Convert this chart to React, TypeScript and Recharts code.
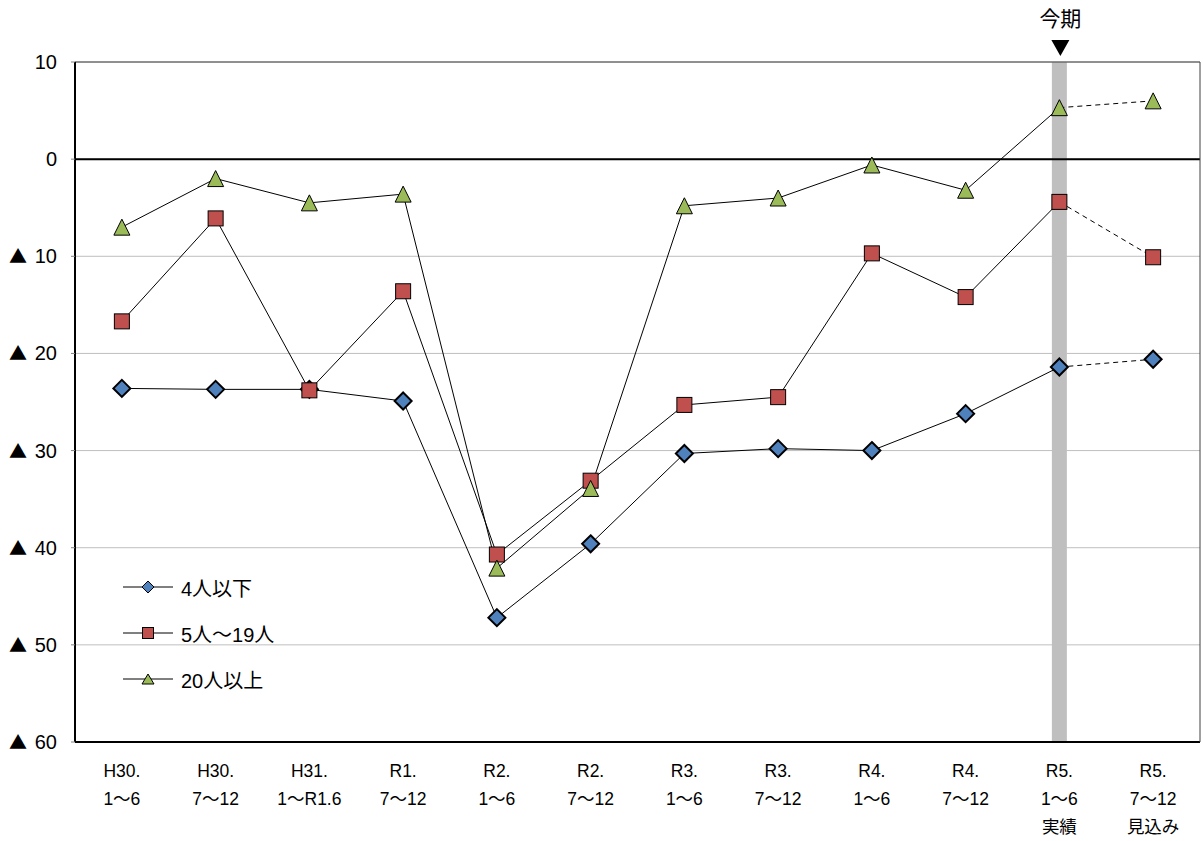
import React from "react";
import {
  LineChart,
  Line,
  XAxis,
  YAxis,
  CartesianGrid,
  ReferenceLine,
  Legend,
} from "recharts";

const periods = [
  "H30.\n1～6",
  "H30.\n7～12",
  "H31.\n1～R1.6",
  "R1.\n7～12",
  "R2.\n1～6",
  "R2.\n7～12",
  "R3.\n1～6",
  "R3.\n7～12",
  "R4.\n1～6",
  "R4.\n7～12",
  "R5.\n1～6\n実績",
  "R5.\n7～12\n見込み",
];

const under4 = [-23.6, -23.7, -23.7, -24.9, -47.2, -39.6, -30.3, -29.8, -30.0, -26.2, -21.4, -20.6];
const from5to19 = [-16.7, -6.1, -23.8, -13.6, -40.7, -33.1, -25.3, -24.5, -9.7, -14.2, -4.4, -10.1];
const over20 = [-7.0, -2.0, -4.5, -3.6, -42.1, -33.9, -4.8, -4.0, -0.6, -3.2, 5.3, 6.0];

const yTicks = [10, 0, -10, -20, -30, -40, -50, -60];
const currentPeriod = periods[10];
const currentLabel = "今期";

const series = [
  { key: "a", name: "4人以下", values: under4, shape: "diamond" },
  { key: "b", name: "5人～19人", values: from5to19, shape: "square" },
  { key: "c", name: "20人以上", values: over20, shape: "triangle" },
];

// last point is a forecast, joined by a dashed segment
const lastIdx = periods.length - 1;
const data = periods.map((p, i) => {
  const row: any = { period: p };
  series.forEach((s) => {
    row[s.key] = i < lastIdx ? s.values[i] : null;
    row[s.key + "F"] = i >= lastIdx - 1 ? s.values[i] : null;
  });
  return row;
});

const FONT = "'Liberation Sans', 'Noto Sans CJK JP', sans-serif";
const CJK = "'Noto Sans CJK JP', sans-serif";

function Marker({ shape, cx, cy, small }: any) {
  if (shape === "diamond") {
    const r = small ? 6 : 8.5;
    return (
      <path
        d={`M${cx},${cy - r}L${cx + r},${cy}L${cx},${cy + r}L${cx - r},${cy}Z`}
        fill="#4F81BD"
        stroke="#000"
        strokeWidth={small ? 1 : 2}
      />
    );
  }
  if (shape === "square") {
    const r = small ? 5.5 : 7.5;
    return (
      <rect x={cx - r} y={cy - r} width={r * 2} height={r * 2} fill="#C0504D" stroke="#000" strokeWidth={1} />
    );
  }
  const w = small ? 6 : 8;
  const h = small ? 5 : 8;
  return (
    <path
      d={`M${cx},${cy - h}L${cx + w},${cy + h}L${cx - w},${cy + h}Z`}
      fill="#9BBB59"
      stroke="#000"
      strokeWidth={1}
    />
  );
}

const makeDot = (shape: string, onlyLast: boolean) => (props: any) => {
  const { cx, cy, index, value } = props;
  if (value == null || cx == null || cy == null || (onlyLast && index !== lastIdx)) {
    return <g key={`d-${shape}-${index}`} />;
  }
  return (
    <g key={`d-${shape}-${index}`}>
      <Marker shape={shape} cx={cx} cy={cy} />
    </g>
  );
};

function YTick({ y, payload }: any) {
  const v = payload.value;
  return (
    <g fill="#000">
      {v < 0 && (
        <text x={9} y={y} dy={7} fontSize={18} fontFamily={CJK}>
          ▲
        </text>
      )}
      <text x={57} y={y} dy={7} fontSize={20} textAnchor="end" fontFamily={FONT}>
        {Math.abs(v)}
      </text>
    </g>
  );
}

function XTick({ x, payload }: any) {
  const lines = String(payload.value).split("\n");
  return (
    <g fontFamily={FONT} fill="#000" fontSize={17.5}>
      {lines.map((t, i) => (
        <text key={i} x={x} y={777 + i * 28} textAnchor="middle">
          {t}
        </text>
      ))}
    </g>
  );
}

function CurrentLabel({ viewBox }: any) {
  const cx = viewBox.x + 1;
  return (
    <g>
      <text x={cx} y={26} textAnchor="middle" fontSize={21} fontFamily={CJK} fill="#000">
        {currentLabel}
      </text>
      <path d={`M${cx - 9},40L${cx + 9},40L${cx},56Z`} fill="#000" />
    </g>
  );
}

function LegendBox() {
  return (
    <div style={{ fontFamily: FONT, fontSize: 20, color: "#000" }}>
      {series.map((s) => (
        <div key={s.key} style={{ display: "flex", alignItems: "center", height: 46 }}>
          <svg width={58} height={20}>
            <line x1={0} y1={10} x2={50} y2={10} stroke="#000" strokeWidth={1} />
            <Marker shape={s.shape} cx={25} cy={10} small />
          </svg>
          <span>{s.name}</span>
        </div>
      ))}
    </div>
  );
}

export default function App() {
  return (
    <div>
      <style>{`body{margin:0}`}</style>
      <LineChart
        width={1203}
        height={841}
        data={data}
        margin={{ top: 62, right: 0, left: 0, bottom: 0 }}
      >
        <CartesianGrid horizontal vertical={false} stroke="#BFBFBF" strokeWidth={1} />
        <ReferenceLine
          x={currentPeriod}
          stroke="#BFBFBF"
          strokeWidth={15}
          label={<CurrentLabel />}
        />
        <ReferenceLine y={10} stroke="#404040" strokeWidth={1} />
        <ReferenceLine y={0} stroke="#000" strokeWidth={2} />
        <XAxis
          dataKey="period"
          scale="band"
          interval={0}
          height={99}
          axisLine={{ stroke: "#000", strokeWidth: 2 }}
          tickLine={false}
          tick={<XTick />}
        />
        <YAxis
          type="number"
          domain={[-60, 10]}
          ticks={yTicks}
          width={75}
          axisLine={{ stroke: "#000", strokeWidth: 2 }}
          tickLine={{ stroke: "#808080" }}
          tickSize={4}
          tick={<YTick />}
        />
        <YAxis
          yAxisId="r"
          orientation="right"
          domain={[-60, 10]}
          width={3}
          tick={false}
          tickLine={false}
          axisLine={{ stroke: "#404040", strokeWidth: 1 }}
        />
        <Legend
          layout="horizontal"
          verticalAlign="middle"
          align="center"
          content={<LegendBox />}
          wrapperStyle={{ left: 123, top: 564, width: 220 }}
        />
        {series.map((s) => (
          <Line
            key={s.key}
            dataKey={s.key}
            name={s.name}
            stroke="#000"
            strokeWidth={1}
            dot={makeDot(s.shape, false)}
            activeDot={false}
            connectNulls={false}
            isAnimationActive={false}
          />
        ))}
        {series.map((s) => (
          <Line
            key={s.key + "F"}
            dataKey={s.key + "F"}
            name={s.name}
            legendType="none"
            stroke="#000"
            strokeWidth={1}
            strokeDasharray="5 4"
            dot={makeDot(s.shape, true)}
            activeDot={false}
            isAnimationActive={false}
          />
        ))}
      </LineChart>
    </div>
  );
}
